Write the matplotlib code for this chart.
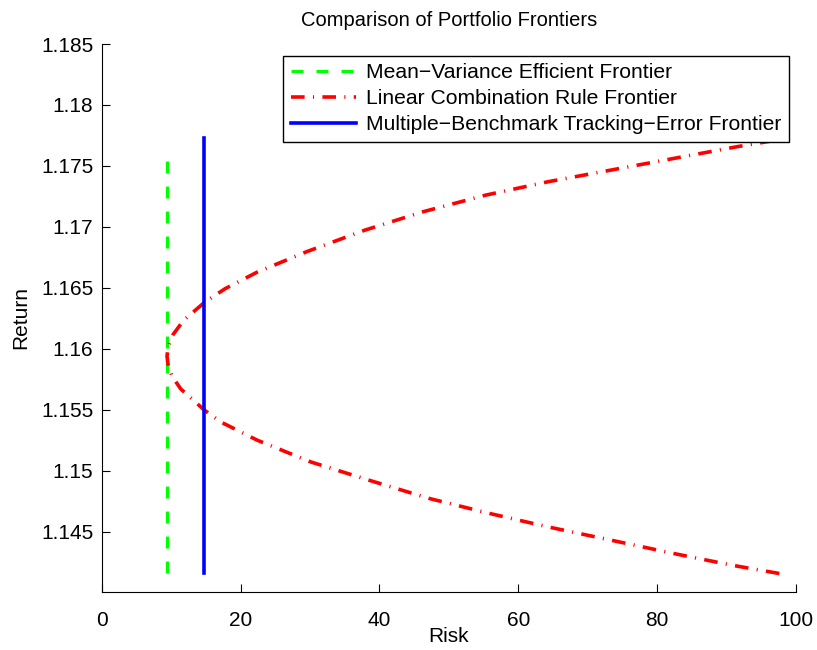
import matplotlib
matplotlib.use("Agg")
import matplotlib.pyplot as plt

plt.rcParams['font.family'] = ['Liberation Sans', 'DejaVu Sans']
plt.rcParams['lines.scale_dashes'] = False
plt.rcParams['axes.unicode_minus'] = True

# Mean-Variance Efficient Frontier
mv_risk = [9.45, 9.45]
mv_return = [1.1416, 1.1763]

# Multiple-Benchmark Tracking-Error Frontier
mbte_risk = [14.8, 14.8]
mbte_return = [1.1416, 1.1773]

# Linear Combination Rule Frontier
lcr_risk = [97.6, 90.8, 82.4, 73.4, 64.3, 55.9, 47.2, 38.5, 30.1, 22.4, 17.2,
            14.8, 11.4, 10.2, 9.6, 9.4, 9.6, 10.3, 11.8, 14.8, 17.8, 22.4,
            29.5, 37.9, 46.3, 55.3, 64.3, 73.4, 82.4, 91.5, 97.3]
lcr_return = [1.14159, 1.14227, 1.14323, 1.14432, 1.14541, 1.14651, 1.14774,
              1.14924, 1.15074, 1.15252, 1.15400, 1.15498, 1.15671, 1.15770,
              1.15855, 1.15940, 1.16025, 1.16120, 1.16235, 1.16382, 1.16495,
              1.16630, 1.16797, 1.16974, 1.17125, 1.17261, 1.17371, 1.17467,
              1.17562, 1.17658, 1.17713]

x_ticks = [0, 20, 40, 60, 80, 100]
y_ticks = [1.145, 1.15, 1.155, 1.16, 1.165, 1.17, 1.175, 1.18, 1.185]
y_ticklabels = ['1.145', '1.15', '1.155', '1.16', '1.165', '1.17', '1.175', '1.18', '1.185']

fig = plt.figure(figsize=(8.17, 6.5), dpi=100)
ax = fig.add_axes([0.1245, 0.0897, 0.8498, 0.8426])

l1, = ax.plot(mv_risk, mv_return, color=(0, 1, 0), lw=2.3,
              label='Mean\u2212Variance Efficient Frontier')
l1.set_dashes([8.6, 9.4])
l2, = ax.plot(lcr_risk, lcr_return, color=(1, 0, 0), lw=2.6,
              label='Linear Combination Rule Frontier')
l2.set_dashes([9.8, 6.0, 0.8, 6.0])
l3, = ax.plot(mbte_risk, mbte_return, color=(0, 0, 1), lw=2.6,
              label='Multiple\u2212Benchmark Tracking\u2212Error Frontier')

ax.set_xlim(0, 100)
ax.set_ylim(1.1401, 1.185)
ax.set_xticks(x_ticks)
ax.set_yticks(y_ticks)
ax.set_yticklabels(y_ticklabels)
ax.spines['top'].set_visible(False)
ax.spines['right'].set_visible(False)
for s in ['left', 'bottom']:
    ax.spines[s].set_linewidth(0.8)
ax.tick_params(direction='in', length=6, width=0.8, labelsize=15)
ax.tick_params(axis='x', pad=14)
ax.tick_params(axis='y', pad=6)

ax.set_xlabel('Risk', fontsize=15, labelpad=-2)
ax.set_ylabel('Return', fontsize=15, labelpad=7.5)
ax.set_title('Comparison of Portfolio Frontiers', fontsize=14.5, pad=13)

leg = ax.legend(loc='upper right', bbox_to_anchor=(0.99, 0.9786), borderaxespad=0,
                fancybox=False, framealpha=1, edgecolor='black', fontsize=15.2,
                handlelength=3.1, handletextpad=0.48, labelspacing=0.33,
                borderpad=0.36)
leg.get_frame().set_linewidth(1.0)

fig.savefig('out.png', dpi=100)
